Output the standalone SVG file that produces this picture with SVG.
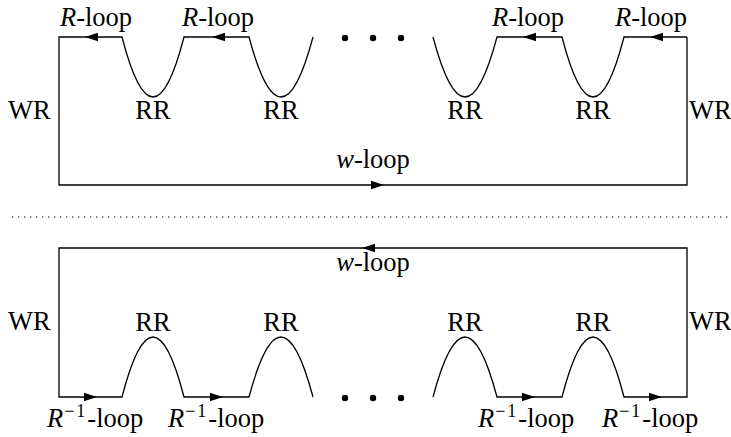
<svg xmlns="http://www.w3.org/2000/svg" xmlns:xlink="http://www.w3.org/1999/xlink" width="731" height="437" viewBox="0 0 731 437">
<style>
  .ln { fill: none; stroke: #000; stroke-width: 1.3; }
  .dot { fill: none; stroke: #000; stroke-width: 1.2; stroke-dasharray: 1.3 4.7; }
  text { font-family: 'Liberation Serif', 'Times New Roman', serif; font-size: 26.5px; fill: #000; }
  .m { text-anchor: middle; }
  .i { font-style: italic; }
  .sup { font-size: 18px; letter-spacing: 2px; }
</style>
<defs>
  <path id="ah" d="M0,0 L-13,-4.2 L-13,4.2 Z" fill="#000"/>
</defs>
<rect width="731" height="437" fill="#fff"/>

<g id="connectors">
  <path class="ln" d="M687,37 L624,37 Q593,157 562,37 L497,37 Q465,157 433,37"/>
  <path class="ln" d="M313,37 Q281,157 249,37 L184,37 Q153,157 122,37 L59,37 L59,185 L687,185 L687,37"/>
  <use xlink:href="#ah" transform="translate(650,37) rotate(180)"/>
  <use xlink:href="#ah" transform="translate(523,37) rotate(180)"/>
  <use xlink:href="#ah" transform="translate(212,37) rotate(180)"/>
  <use xlink:href="#ah" transform="translate(85,37) rotate(180)"/>
  <use xlink:href="#ah" transform="translate(384,185)"/>
  <line class="dot" x1="12" y1="217" x2="731" y2="217"/>
  <path class="ln" d="M313,397 Q281,277 249,397 L184,397 Q153,277 122,397 L59,397 L59,248 L687,248 L687,397 L624,397 Q593,277 562,397 L497,397 Q465,277 433,397"/>
  <use xlink:href="#ah" transform="translate(97,397)"/>
  <use xlink:href="#ah" transform="translate(223,397)"/>
  <use xlink:href="#ah" transform="translate(535,397)"/>
  <use xlink:href="#ah" transform="translate(662,397)"/>
  <use xlink:href="#ah" transform="translate(362,248) rotate(180)"/>
  <circle cx="345" cy="38" r="3.2"/>
  <circle cx="373" cy="38" r="3.2"/>
  <circle cx="401" cy="38" r="3.2"/>
  <circle cx="345" cy="398" r="3.2"/>
  <circle cx="373" cy="398" r="3.2"/>
  <circle cx="401" cy="398" r="3.2"/>
</g>

<g id="top-labels">
  <text class="m" x="96" y="26"><tspan class="i">R</tspan>-loop</text>
  <text class="m" x="218" y="26"><tspan class="i">R</tspan>-loop</text>
  <text class="m" x="528" y="26"><tspan class="i">R</tspan>-loop</text>
  <text class="m" x="651" y="26"><tspan class="i">R</tspan>-loop</text>
  <text class="m" x="153" y="119">RR</text>
  <text class="m" x="281" y="119">RR</text>
  <text class="m" x="465" y="119">RR</text>
  <text class="m" x="593" y="119">RR</text>
  <text x="8" y="119">WR</text>
  <text x="689" y="119">WR</text>
  <text class="m" x="373" y="168"><tspan class="i">w</tspan>-loop</text>
</g>

<g id="bottom-labels">
  <text class="m" x="373" y="271"><tspan class="i">w</tspan>-loop</text>
  <text x="8" y="330">WR</text>
  <text x="689" y="330">WR</text>
  <text class="m" x="153" y="331">RR</text>
  <text class="m" x="281" y="331">RR</text>
  <text class="m" x="465" y="331">RR</text>
  <text class="m" x="593" y="331">RR</text>
  <text x="47" y="427"><tspan class="i">R</tspan><tspan class="sup" dx="1" dy="-10">−1</tspan><tspan dy="10">-loop</tspan></text>
  <text x="168" y="427"><tspan class="i">R</tspan><tspan class="sup" dx="1" dy="-10">−1</tspan><tspan dy="10">-loop</tspan></text>
  <text x="478" y="427"><tspan class="i">R</tspan><tspan class="sup" dx="1" dy="-10">−1</tspan><tspan dy="10">-loop</tspan></text>
  <text x="602" y="427"><tspan class="i">R</tspan><tspan class="sup" dx="1" dy="-10">−1</tspan><tspan dy="10">-loop</tspan></text>
</g>
</svg>
